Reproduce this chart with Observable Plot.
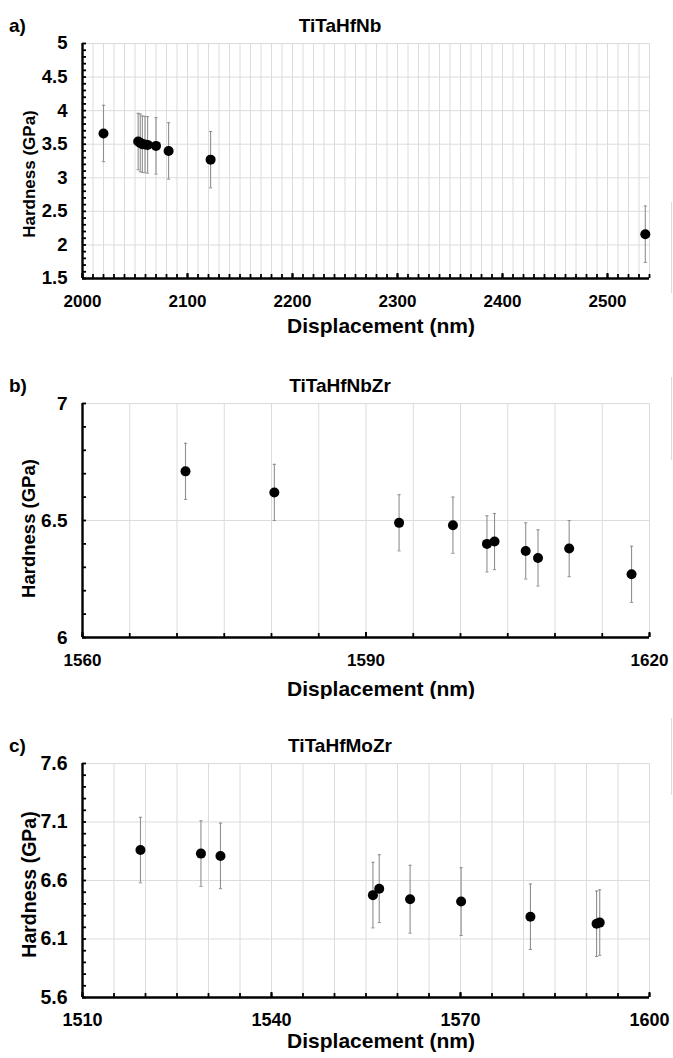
<!DOCTYPE html>
<html>
<head>
<meta charset="utf-8">
<script src="https://cdn.jsdelivr.net/npm/d3@7"></script>
<script src="https://cdn.jsdelivr.net/npm/@observablehq/plot@0.6"></script>
<style>
  html, body { margin: 0; padding: 0; background: #fff; }
  #root { position: relative; width: 673px; height: 1058px; overflow: hidden; font-family: "Liberation Sans", Arial, sans-serif; }
  .panel { position: absolute; left: 0; }
  .tag, .title { position: absolute; font-weight: bold; color: #000; line-height: 1; z-index: 2; white-space: nowrap; }
  .tag { font-size: 19px; left: 9px; transform: translateY(-50%); }
  .title { font-size: 19px; left: 340px; transform: translate(-50%, -50%); }
  .frag { position: absolute; left: 671px; width: 1px; background: #dcdcdc; }
</style>
</head>
<body>
<div id="root"></div>
<script>
// ---- data ----
const titleA = "TiTaHfNb";
const dispA = [2020, 2053, 2055, 2057, 2059.5, 2062, 2070, 2082, 2122, 2536];
const hardA = [3.66, 3.54, 3.52, 3.50, 3.495, 3.49, 3.475, 3.40, 3.27, 2.16];
const errA  = [0.42, 0.42, 0.43, 0.42, 0.42, 0.42, 0.42, 0.42, 0.42, 0.42];
const xTicksA = [2000, 2100, 2200, 2300, 2400, 2500];
const yTicksA = [1.5, 2, 2.5, 3, 3.5, 4, 4.5, 5];

const titleB = "TiTaHfNbZr";
const dispB = [1570.9, 1580.3, 1593.5, 1599.2, 1602.8, 1603.6, 1606.9, 1608.2, 1611.5, 1618.1];
const hardB = [6.71, 6.62, 6.49, 6.48, 6.40, 6.41, 6.37, 6.34, 6.38, 6.27];
const errB  = [0.12, 0.12, 0.12, 0.12, 0.12, 0.12, 0.12, 0.12, 0.12, 0.12];
const xTicksB = [1560, 1590, 1620];
const yTicksB = [6, 6.5, 7];

const titleC = "TiTaHfMoZr";
const dispC = [1519.2, 1528.8, 1531.9, 1556.1, 1557.1, 1562.0, 1570.1, 1581.1, 1591.6, 1592.1];
const hardC = [6.86, 6.83, 6.81, 6.475, 6.53, 6.44, 6.42, 6.29, 6.23, 6.24];
const errC  = [0.28, 0.28, 0.28, 0.28, 0.29, 0.29, 0.29, 0.28, 0.28, 0.28];
const xTicksC = [1510, 1540, 1570, 1600];
const yTicksC = [5.6, 6.1, 6.6, 7.1, 7.6];

const xLabel = "Displacement (nm)";
const yLabel = "Hardness (GPa)";

// ---- drawing ----
const W = 673, ML = 82, MR = 24;
const capSymbol = { draw(ctx, size) { const r = Math.sqrt(size / Math.PI); ctx.moveTo(-r, 0); ctx.lineTo(r, 0); } };
const root = document.getElementById("root");

function panel(cfg) {
  const rows = cfg.xs.map((x, i) => ({x, y: cfg.ys[i], lo: cfg.ys[i] - cfg.es[i], hi: cfg.ys[i] + cfg.es[i]}));
  const caps = rows.flatMap(d => [{x: d.x, y: d.lo}, {x: d.x, y: d.hi}]);
  const plotW = W - ML - MR;
  const plotH = cfg.plotH;
  const [x0, x1] = cfg.xDomain, [y0, y1] = cfg.yDomain;
  const xGrid = d3.range(x0 + cfg.xGridStep, x1 + 1e-9, cfg.xGridStep);
  const yGrid = d3.range(y0 + 0.5, y1 + 1e-9, 0.5);
  const xMinor = d3.range(x0, x1 + 1e-9, cfg.xMinorStep);
  const yMinor = d3.range(0, Math.round((y1 - y0) / 0.1) + 1).map(i => y0 + i * 0.1);
  const fmt = d => String(+d.toFixed(2));
  const svg = Plot.plot({
    width: W, height: cfg.mt + plotH + cfg.mb,
    marginLeft: ML, marginRight: MR, marginTop: cfg.mt, marginBottom: cfg.mb,
    x: {domain: cfg.xDomain},
    y: {domain: cfg.yDomain},
    style: {fontFamily: "'Liberation Sans', Arial, sans-serif", fontWeight: "bold", fontSize: cfg.xTickFont + "px", color: "#000", background: "transparent"},
    marks: [
      Plot.ruleX(xGrid, {stroke: "#dcdcdc", strokeWidth: 1}),
      Plot.ruleY(yGrid, {stroke: "#dcdcdc", strokeWidth: 1}),
      Plot.tickX(xMinor, {x: d => d, insetTop: plotH - 4, stroke: "#000", strokeWidth: 1.8}),
      Plot.tickX(cfg.xTicks, {x: d => d, insetTop: plotH - 5, stroke: "#000", strokeWidth: 2}),
      Plot.tickY(yMinor, {y: d => d, insetRight: plotW - 4, stroke: "#000", strokeWidth: 1.8}),
      Plot.ruleX([x0], {stroke: "#000", strokeWidth: 2.4}),
      Plot.ruleY([y0], {stroke: "#000", strokeWidth: 2.4}),
      Plot.ruleX(rows, {x: "x", y1: "lo", y2: "hi", stroke: "#8f8f8f", strokeWidth: 1.1}),
      Plot.dot(caps, {x: "x", y: "y", symbol: capSymbol, r: 1.6, stroke: "#8f8f8f", strokeWidth: 1}),
      Plot.dot(rows, {x: "x", y: "y", r: 5, fill: "#000", stroke: "none"}),
      Plot.axisX(cfg.xTicks, {tickSize: 0, tickPadding: 16, tickFormat: fmt, label: null, fontSize: cfg.xTickFont}),
      Plot.axisY(cfg.yTicks, {tickSize: 0, tickPadding: 15, tickFormat: fmt, label: null, fontSize: cfg.yTickFont}),
      Plot.text([xLabel], {text: d => d, frameAnchor: "bottom", textAnchor: "middle", lineAnchor: "middle", dx: 15, dy: cfg.xLabDy, fontSize: 21, fontWeight: "bold", fill: "#000"}),
      Plot.text([yLabel], {text: d => d, frameAnchor: "left", textAnchor: "middle", lineAnchor: "middle", rotate: -90, dx: -53, dy: cfg.yLabDy, fontSize: cfg.yLabFont, fontWeight: "bold", fill: "#000"})
    ]
  });
  svg.classList.add("panel");
  svg.style.top = cfg.top + "px";
  svg.style.position = "absolute";
  root.appendChild(svg);

  const tag = document.createElement("div");
  tag.className = "tag"; tag.textContent = cfg.tag; tag.style.top = cfg.titleY + "px";
  root.appendChild(tag);
  const t = document.createElement("div");
  t.className = "title"; t.textContent = cfg.title; t.style.top = cfg.titleY + "px";
  root.appendChild(t);
  const fr = document.createElement("div");
  fr.className = "frag"; fr.style.top = cfg.frag[0] + "px"; fr.style.height = (cfg.frag[1] - cfg.frag[0]) + "px";
  root.appendChild(fr);
}

panel({tag: "a)", title: titleA, titleY: 25, top: 30, mt: 13, plotH: 235, mb: 62,
  xs: dispA, ys: hardA, es: errA, xDomain: [2000, 2540], yDomain: [1.5, 5],
  xGridStep: 10, xMinorStep: 10, xTicks: xTicksA, yTicks: yTicksA,
  xTickFont: 17, yTickFont: 18.5, xLabDy: 48, yLabDy: 13, yLabFont: 17, frag: [202, 293]});

panel({tag: "b)", title: titleB, titleY: 385, top: 392, mt: 11, plotH: 234, mb: 62,
  xs: dispB, ys: hardB, es: errB, xDomain: [1560, 1620], yDomain: [6, 7],
  xGridStep: 5, xMinorStep: 5, xTicks: xTicksB, yTicks: yTicksB,
  xTickFont: 17, yTickFont: 19, xLabDy: 52, yLabDy: 8, yLabFont: 18.5, frag: [377, 460]});

panel({tag: "c)", title: titleC, titleY: 745, top: 752, mt: 11, plotH: 234, mb: 58,
  xs: dispC, ys: hardC, es: errC, xDomain: [1510, 1600], yDomain: [5.6, 7.6],
  xGridStep: 5, xMinorStep: 5, xTicks: xTicksC, yTicks: yTicksC,
  xTickFont: 18, yTickFont: 19.5, xLabDy: 44, yLabDy: 4, yLabFont: 19.5, frag: [718, 795]});
</script>
</body>
</html>
